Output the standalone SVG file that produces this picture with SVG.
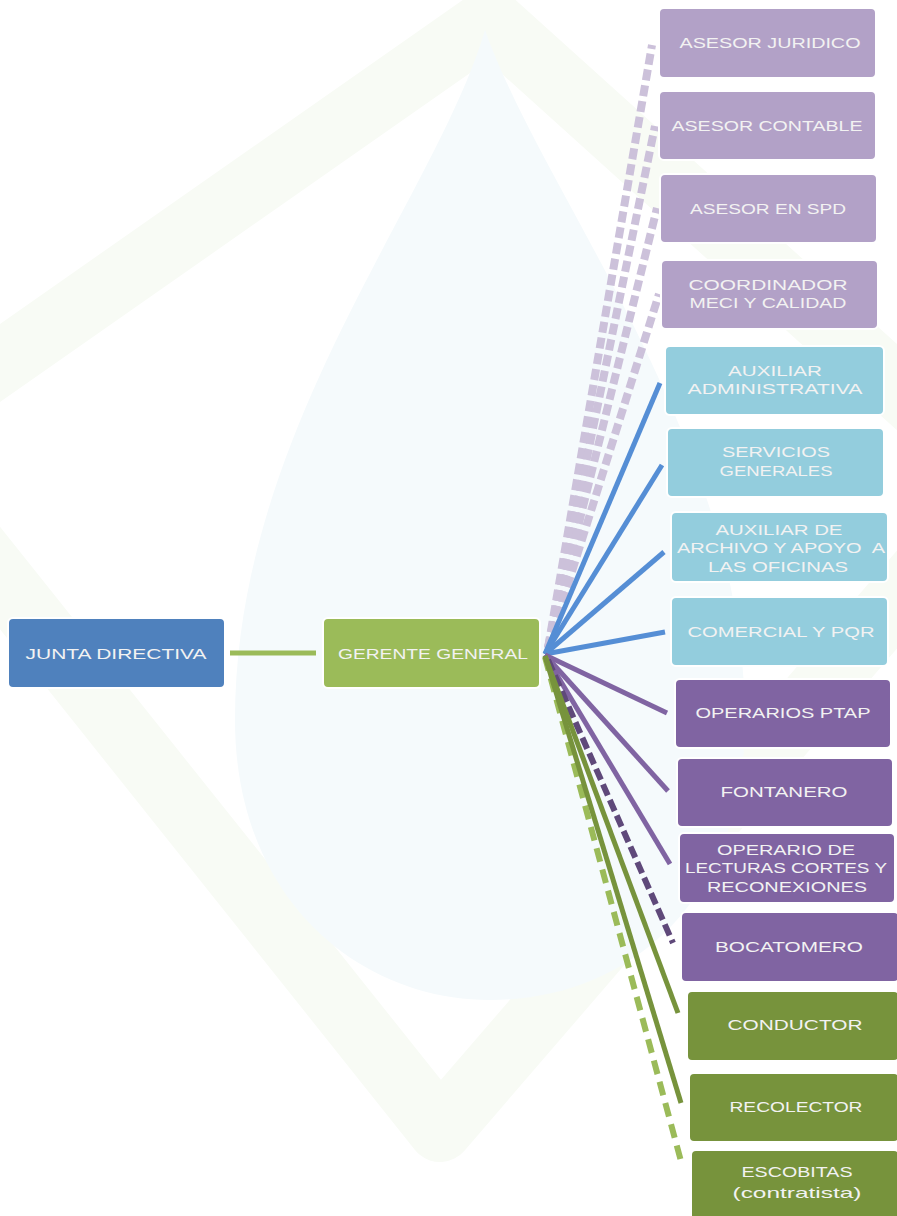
<svg xmlns="http://www.w3.org/2000/svg" width="897" height="1216" viewBox="0 0 897 1216">
<defs>
<style>
.bx{stroke:#ffffff;stroke-width:2}
.lp{fill:#b2a1c7}.lb{fill:#93cddd}.pu{fill:#8064a2}.ol{fill:#77933c}.bl{fill:#4f81bd}.gr{fill:#9bbb59}
text{font-family:"Liberation Sans","Open Sans",sans-serif;font-size:15px;fill:#f2f2f2;text-anchor:middle}
.c{fill:none;stroke-linecap:butt}
</style>
</defs>
<rect width="897" height="1216" fill="#ffffff"/>
<g id="watermark">
<path d="M-110 440 L490 20 L1000 480 L440 1130 Z" fill="none" stroke="#f8fbf5" stroke-width="64" stroke-linejoin="round"/>
<path d="M485 30 C435 200 235 430 235 720 C235 900 360 1000 490 1000 C630 1000 745 900 745 720 C745 440 545 200 485 30 Z" fill="#f5fafc"/>
</g>
<g id="connectors">
<line class="c" x1="230" y1="653" x2="316" y2="653" stroke="#9bbb59" stroke-width="5"/>
<g stroke="#ccc1da" stroke-width="8" stroke-dasharray="11 5">
<line class="c" x1="548" y1="648" x2="652" y2="45"/>
<line class="c" x1="548" y1="648" x2="655" y2="126"/>
<line class="c" x1="548" y1="648" x2="657" y2="208"/>
<line class="c" x1="548" y1="648" x2="659" y2="294"/>
</g>
<g stroke="#558ed5" stroke-width="5">
<line class="c" x1="545" y1="654" x2="660" y2="383"/>
<line class="c" x1="545" y1="654" x2="662" y2="465"/>
<line class="c" x1="545" y1="654" x2="664" y2="552"/>
<line class="c" x1="545" y1="654" x2="665" y2="632"/>
</g>
<g stroke="#8064a2" stroke-width="5">
<line class="c" x1="545" y1="655" x2="667" y2="713"/>
<line class="c" x1="545" y1="655" x2="668" y2="791"/>
<line class="c" x1="545" y1="655" x2="670" y2="864"/>
</g>
<line class="c" x1="548" y1="660" x2="673" y2="943" stroke="#5f497a" stroke-width="6" stroke-dasharray="12 5"/>
<line class="c" x1="545" y1="657" x2="682" y2="1165" stroke="#9bbb59" stroke-width="6" stroke-dasharray="14 8"/>
<g stroke="#77933c" stroke-width="5">
<line class="c" x1="545" y1="656" x2="678" y2="1013"/>
<line class="c" x1="545" y1="656" x2="681" y2="1103"/>
</g>
</g>
<g id="junta"><rect class="bx bl" x="8" y="618" width="217" height="70" rx="5"/><text x="116" y="659" textLength="181" lengthAdjust="spacingAndGlyphs">JUNTA DIRECTIVA</text></g>
<g id="gerente"><rect class="bx gr" x="323" y="618" width="217" height="70" rx="5"/><text x="433" y="659" textLength="190" lengthAdjust="spacingAndGlyphs">GERENTE GENERAL</text></g>
<g id="asesor-juridico"><rect class="bx lp" x="659" y="8" width="217" height="70" rx="5"/><text x="770" y="48" textLength="181" lengthAdjust="spacingAndGlyphs">ASESOR JURIDICO</text></g>
<g id="asesor-contable"><rect class="bx lp" x="659" y="91" width="217" height="69" rx="5"/><text x="767" y="131" textLength="191" lengthAdjust="spacingAndGlyphs">ASESOR CONTABLE</text></g>
<g id="asesor-spd"><rect class="bx lp" x="660" y="174" width="217" height="69" rx="5"/><text x="768" y="214" textLength="156" lengthAdjust="spacingAndGlyphs">ASESOR EN SPD</text></g>
<g id="coordinador"><rect class="bx lp" x="661" y="260" width="217" height="69" rx="5"/><text x="768" y="290" textLength="159" lengthAdjust="spacingAndGlyphs">COORDINADOR</text><text x="768" y="308" textLength="157" lengthAdjust="spacingAndGlyphs">MECI Y CALIDAD</text></g>
<g id="auxiliar-administrativa"><rect class="bx lb" x="665" y="346" width="219" height="69" rx="5"/><text x="775" y="376" textLength="94" lengthAdjust="spacingAndGlyphs">AUXILIAR</text><text x="775" y="394" textLength="175" lengthAdjust="spacingAndGlyphs">ADMINISTRATIVA</text></g>
<g id="servicios-generales"><rect class="bx lb" x="667" y="428" width="217" height="69" rx="5"/><text x="776" y="457" textLength="108" lengthAdjust="spacingAndGlyphs">SERVICIOS</text><text x="776" y="476" textLength="113" lengthAdjust="spacingAndGlyphs">GENERALES</text></g>
<g id="auxiliar-archivo"><rect class="bx lb" x="671" y="512" width="217" height="70" rx="5"/><text x="779" y="535" textLength="127" lengthAdjust="spacingAndGlyphs">AUXILIAR DE</text><text x="781" y="553" textLength="208" lengthAdjust="spacingAndGlyphs" xml:space="preserve">ARCHIVO Y APOYO  A</text><text x="778" y="572" textLength="140" lengthAdjust="spacingAndGlyphs">LAS OFICINAS</text></g>
<g id="comercial"><rect class="bx lb" x="671" y="597" width="217" height="69" rx="5"/><text x="781" y="637" textLength="187" lengthAdjust="spacingAndGlyphs">COMERCIAL Y PQR</text></g>
<g id="operarios-ptap"><rect class="bx pu" x="675" y="679" width="216" height="69" rx="5"/><text x="783" y="718" textLength="175" lengthAdjust="spacingAndGlyphs">OPERARIOS PTAP</text></g>
<g id="fontanero"><rect class="bx pu" x="677" y="758" width="216" height="69" rx="5"/><text x="784" y="797" textLength="127" lengthAdjust="spacingAndGlyphs">FONTANERO</text></g>
<g id="operario-lecturas"><rect class="bx pu" x="679" y="833" width="216" height="70" rx="5"/><text x="786" y="855" textLength="138" lengthAdjust="spacingAndGlyphs">OPERARIO DE</text><text x="786" y="873" textLength="202" lengthAdjust="spacingAndGlyphs">LECTURAS CORTES Y</text><text x="787" y="892" textLength="160" lengthAdjust="spacingAndGlyphs">RECONEXIONES</text></g>
<g id="bocatomero"><rect class="bx pu" x="681" y="912" width="218" height="70" rx="5"/><text x="789" y="952" textLength="148" lengthAdjust="spacingAndGlyphs">BOCATOMERO</text></g>
<g id="conductor"><rect class="bx ol" x="687" y="991" width="212" height="70" rx="5"/><text x="795" y="1030" textLength="135" lengthAdjust="spacingAndGlyphs">CONDUCTOR</text></g>
<g id="recolector"><rect class="bx ol" x="689" y="1073" width="210" height="69" rx="5"/><text x="796" y="1112" textLength="133" lengthAdjust="spacingAndGlyphs">RECOLECTOR</text></g>
<g id="escobitas"><rect class="bx ol" x="691" y="1150" width="208" height="70" rx="5"/><text x="797" y="1177" textLength="111" lengthAdjust="spacingAndGlyphs">ESCOBITAS</text><text x="797" y="1198" textLength="129" lengthAdjust="spacingAndGlyphs">(contratista)</text></g>
</svg>
